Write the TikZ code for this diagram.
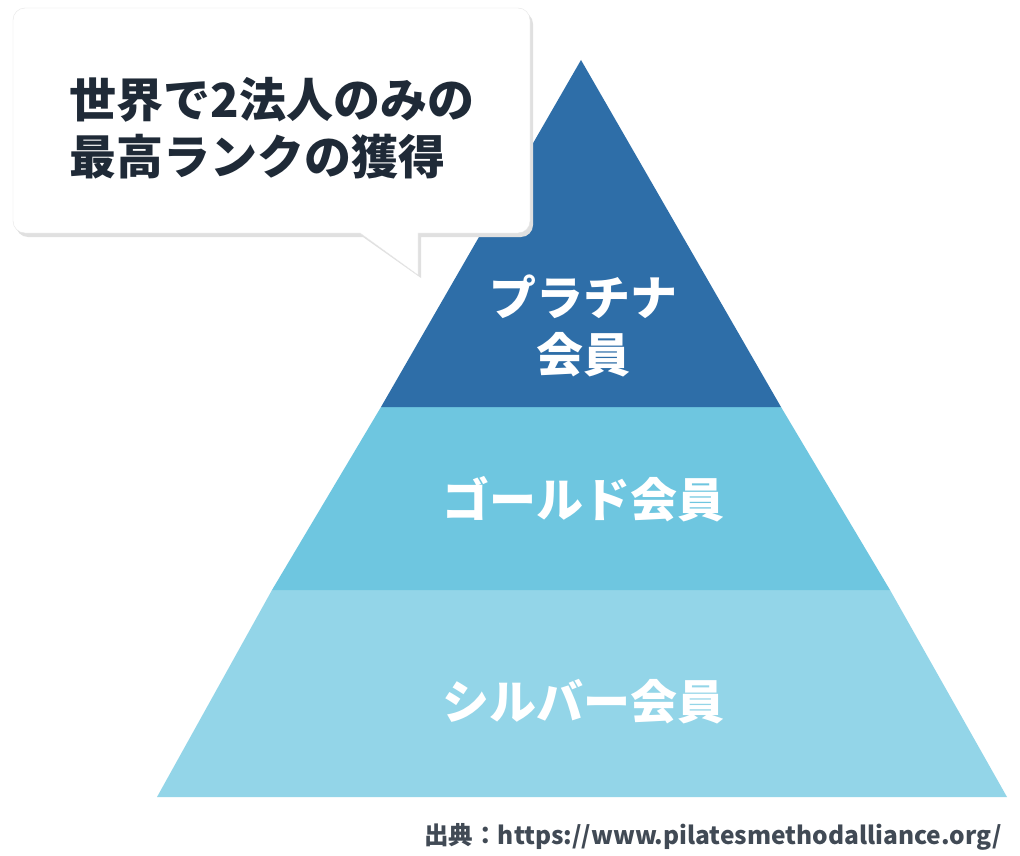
\documentclass[tikz,border=0pt]{standalone}
\usepackage{fontspec}
\newfontfamily\jp{Noto Sans CJK JP}
\definecolor{plat}{HTML}{2E6EA8}
\definecolor{gold}{HTML}{6EC6E0}
\definecolor{silv}{HTML}{93D5E8}
\definecolor{ink}{HTML}{1F2A37}
\tikzset{band/.style={draw=none},
lab/.style={text=white,font=\jp\bfseries\fontsize{47}{57}\selectfont,align=center},
bub/.style={text=ink,font=\jp\bfseries\fontsize{47}{57}\selectfont,align=left}}
\begin{document}
\begin{tikzpicture}[x=1pt,y=-1pt]
\useasboundingbox (0,0) rectangle (1020,856);
\fill[white] (0,0) rectangle (1020,856);
% pyramid
\coordinate (apex) at (581,60);
\fill[band,silv] (157,797) -- (1007,797) -- (890,590) -- (272,590) -- cycle;
\fill[band,gold] (272,590) -- (890,590) -- (781,407) -- (381,407) -- cycle;
\fill[band,plat] (381,407) -- (781,407) -- (apex) -- cycle;
\node[lab] (p) at (583,326) {プラチナ\\会員};
\node[lab] (g) at (583,499) {ゴールド会員};
\node[lab] (s) at (583,702) {シルバー会員};
% bubble
\fill[black!12] (16,12) [rounded corners=12pt] -- (533,12) -- (533,237) [sharp corners]-- (421,237) -- (421,278) -- (363,237) [rounded corners=12pt] -- (16,237) -- cycle;
\fill[white,draw=black!10] (13,8) [rounded corners=12pt] -- (530,8) -- (530,233) [sharp corners]-- (418,233) -- (418,275) -- (360,233) [rounded corners=12pt] -- (13,233) -- cycle;
\node[bub] (b) at (272,128) {世界で2法人のみの\\最高ランクの獲得};
\node[anchor=base east,text=ink!85,font=\jp\bfseries\fontsize{24.5}{28}\selectfont] (src) at (1005,844) {出典：https://www.pilatesmethodalliance.org/};
\end{tikzpicture}
\end{document}
